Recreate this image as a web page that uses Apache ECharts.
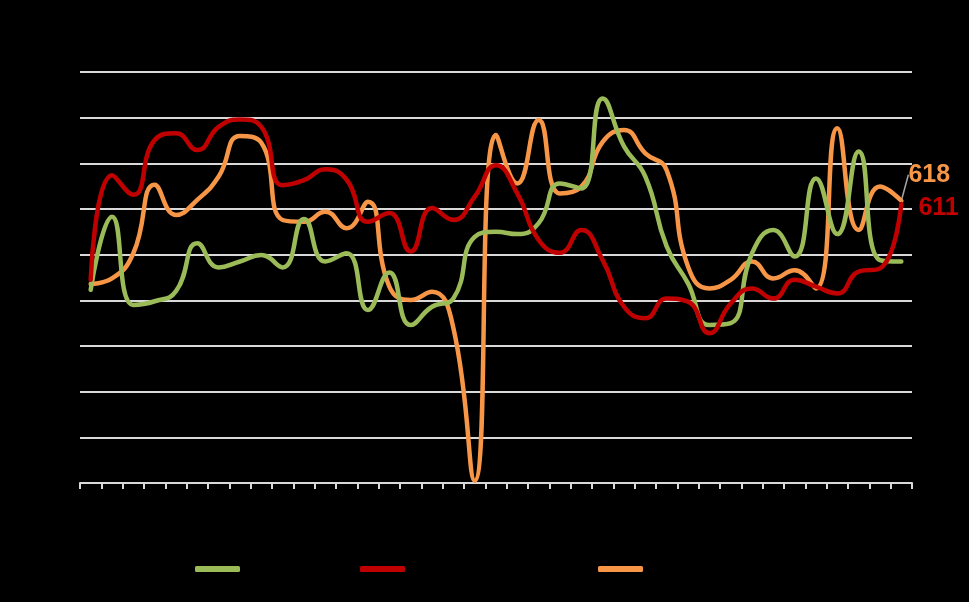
<!DOCTYPE html>
<html>
<head>
<meta charset="utf-8">
<script src="https://cdn.jsdelivr.net/npm/echarts@6/dist/echarts.min.js"></script>
<style>
html,body{margin:0;padding:0;background:#000;}
#chart{width:969px;height:602px;}
</style>
</head>
<body>
<div id="chart"></div>
<script>
const categories = ["Oct-18","Nov-18","Dec-18","Jan-19","Feb-19","Mar-19","Apr-19","May-19","Jun-19","Jul-19","Aug-19","Sep-19","Oct-19","Nov-19","Dec-19","Jan-20","Feb-20","Mar-20","Apr-20","May-20","Jun-20","Jul-20","Aug-20","Sep-20","Oct-20","Nov-20","Dec-20","Jan-21","Feb-21","Mar-21","Apr-21","May-21","Jun-21","Jul-21","Aug-21","Sep-21","Oct-21","Nov-21","Dec-21"];
const seriesNames = ["Series 1", "Series 2 (total)", "Series 3"];
const greenValues = [423,583,390,398,420,525,472,485,499,472,578,485,503,379,461,346,386,404,539,550,545,569,656,645,842,737,671,518,437,346,350,503,554,496,667,545,726,488,485];
const redValues = [445,674,631,751,766,729,780,796,780,652,663,687,664,572,591,507,602,576,627,696,634,532,504,554,488,386,361,404,397,328,393,426,404,445,430,415,463,470,611];
const orangeValues = [436,448,503,653,587,620,671,760,745,576,572,594,558,616,430,401,419,340,5,762,656,795,634,649,747,773,722,685,474,426,445,485,448,466,426,777,554,649,618];
const yTicks = {min: 0, max: 900, interval: 100};

const colors = {green: '#9BBB59', red: '#C00000', orange: '#F79646'};
const gridColor = '#D9D9D9';

function withEndLabel(arr, labelOpts) {
  return arr.map((v, i) => i === arr.length - 1 ? {value: v, label: labelOpts} : v);
}

const chart = echarts.init(document.getElementById('chart'));
const lineBase = {
  type: 'line', smooth: 0.5, symbol: 'circle', symbolSize: 0.1,
  showSymbol: true, showAllSymbol: true,
  lineStyle: {width: 4.5, cap: 'round', join: 'round'},
  label: {show: false}
};
const legendBase = {
  top: 556, icon: 'roundRect', itemWidth: 45, itemHeight: 6,
  textStyle: {color: '#000', fontSize: 16, fontFamily: 'Liberation Sans'}
};
chart.setOption({
  backgroundColor: '#000',
  animation: false,
  grid: {left: 80, right: 57, top: 72, bottom: 119, containLabel: false},
  legend: [
    Object.assign({left: 190, data: [seriesNames[0]]}, legendBase),
    Object.assign({left: 355, data: [seriesNames[1]]}, legendBase),
    Object.assign({left: 593, data: [seriesNames[2]]}, legendBase)
  ],
  xAxis: {
    type: 'category', data: categories, boundaryGap: true,
    axisLine: {lineStyle: {color: gridColor, width: 2}},
    axisTick: {show: true, interval: 0, length: 6, lineStyle: {color: gridColor, width: 2}},
    axisLabel: {color: '#000', interval: 0, rotate: 90, fontSize: 12}
  },
  yAxis: {
    type: 'value', min: yTicks.min, max: yTicks.max, interval: yTicks.interval,
    axisLine: {show: false}, axisTick: {show: false},
    axisLabel: {color: '#000', fontSize: 14},
    splitLine: {lineStyle: {color: gridColor, width: 2}}
  },
  series: [
    Object.assign({}, lineBase, {
      name: seriesNames[0], color: colors.green, z: 3,
      data: greenValues
    }),
    Object.assign({}, lineBase, {
      name: seriesNames[1], color: colors.red, z: 4,
      data: withEndLabel(redValues, {
        show: true, position: 'right', distance: 5, offset: [12, 4],
        color: colors.red, fontSize: 25, fontWeight: 'bold', fontFamily: 'Liberation Sans',
        formatter: '{c}'
      })
    }),
    Object.assign({}, lineBase, {
      name: seriesNames[2], color: colors.orange, z: 2,
      data: withEndLabel(orangeValues, {
        show: true, position: 'right', distance: 5, padding: [30, 0, 2, 0],
        lineHeight: 18,
        backgroundColor: 'rgba(0,0,0,0)',
        color: colors.orange, fontSize: 25, fontWeight: 'bold', fontFamily: 'Liberation Sans',
        formatter: '{c}'
      }),
      labelLayout: {dx: 2, dy: -26},
      labelLine: {show: true, lineStyle: {color: '#A6A6A6', width: 1.5}}
    })
  ]
});
</script>
</body>
</html>
